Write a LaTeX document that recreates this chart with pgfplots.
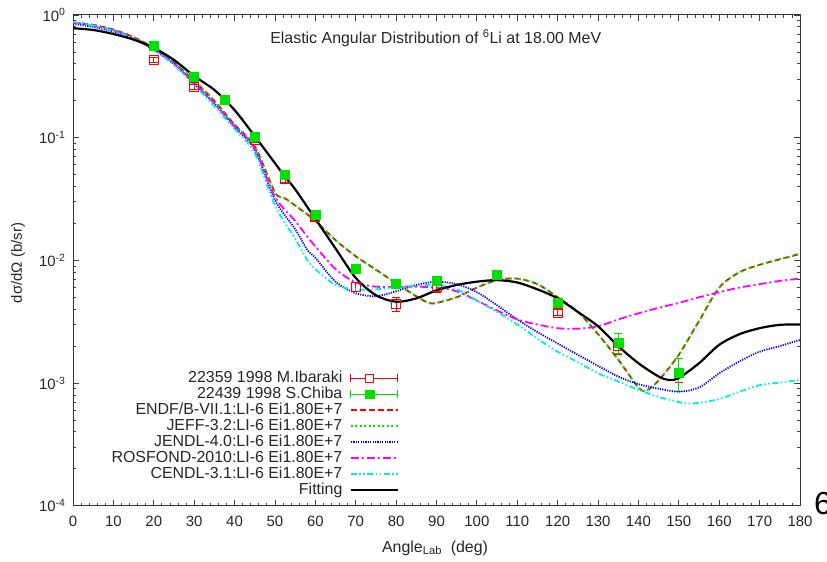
\documentclass[border=0pt]{standalone}
\usepackage{fontspec}
\setmainfont{Liberation Sans}
\usepackage{pgfplots}
\pgfplotsset{compat=1.18}
\usepackage{pgfplotstable}

\definecolor{cred}{RGB}{255,0,0}
\definecolor{cgreen}{RGB}{0,225,0}
\definecolor{cblue}{RGB}{0,0,255}
\definecolor{cmag}{RGB}{255,0,255}
\definecolor{ccyan}{RGB}{0,235,235}

\pgfplotstableread{
x y ep em
20 0.430 0.020 0.020
30 0.257 0.012 0.012
45 0.096 0.005 0.005
52.5 0.046 0.0025 0.0025
60 0.0224 0.0012 0.0012
70 0.0061 0.0005 0.0005
80 0.0044 0.0006 0.0006
90 0.0061 0.0006 0.0006
120 0.00375 0.0002 0.0002
135 0.0020 0.00025 0.0003
150 0.00121 0.00036 0.00020
}\ibaraki

\pgfplotstableread{
x y ep em
20 0.559 0.015 0.015
30 0.311 0.009 0.009
37.5 0.203 0.006 0.006
45 0.102 0.003 0.003
52.5 0.050 0.0015 0.0015
60 0.0234 0.0007 0.0007
70 0.0085 0.0003 0.0003
80 0.0064 0.0003 0.0003
90 0.0068 0.0003 0.0003
105 0.0076 0.0003 0.0003
120 0.0045 0.0002 0.0002
135 0.00214 0.0004 0.0004
150 0.00121 0.00036 0.00036
}\chiba

\pgfplotstableread{
x y
0 0.87
5 0.83
10 0.76
15 0.66
20 0.54
25 0.41
30 0.29
35 0.20
40 0.128
45 0.085
50 0.036
52.5 0.032
55 0.028
60 0.0210
65 0.0146
70 0.0108
75 0.0084
80 0.0065
85 0.0051
88 0.0045
90 0.0045
95 0.0050
100 0.0060
105 0.0069
110 0.0071
115 0.0064
120 0.0050
125 0.0038
130 0.0025
135 0.00155
140 0.00092
142 0.00087
145 0.00105
150 0.0017
155 0.0032
160 0.0060
165 0.0080
170 0.0092
175 0.0102
180 0.0113
}\endf

\pgfplotstableread{
x y
0 0.85
5 0.80
10 0.73
15 0.64
20 0.52
25 0.40
30 0.275
35 0.19
40 0.122
45 0.080
50 0.031
55 0.018
58 0.0122
60 0.0105
65 0.0067
70 0.0054
75 0.0051
80 0.0056
85 0.0063
90 0.0067
95 0.0064
100 0.0055
105 0.0043
110 0.0033
115 0.0026
120 0.0021
125 0.0017
130 0.00138
135 0.00113
140 0.00098
145 0.00090
150 0.00085
155 0.00092
160 0.00120
165 0.00150
170 0.00180
175 0.00200
180 0.00225
}\jendl

\pgfplotstableread{
x y
0 0.87
5 0.82
10 0.75
15 0.65
20 0.53
25 0.40
30 0.28
35 0.19
40 0.125
45 0.082
50 0.033
55 0.021
58 0.0156
60 0.0130
65 0.0085
70 0.0066
75 0.0061
80 0.0061
85 0.0061
90 0.0060
95 0.0056
100 0.0047
105 0.0039
110 0.0033
115 0.0030
120 0.0028
125 0.00277
130 0.0029
135 0.0033
140 0.0037
145 0.0041
150 0.0045
155 0.0050
160 0.0055
165 0.0060
170 0.0064
175 0.0068
180 0.0071
}\rosfond

\pgfplotstableread{
x y
0 0.88
5 0.82
10 0.74
15 0.64
20 0.52
25 0.39
30 0.27
35 0.18
40 0.118
45 0.075
50 0.028
55 0.015
58 0.0101
60 0.0085
65 0.0063
70 0.0058
75 0.0058
80 0.0060
85 0.0062
90 0.0063
95 0.0058
100 0.0047
105 0.0038
110 0.0030
115 0.0023
120 0.0018
125 0.00148
130 0.00120
135 0.00103
140 0.00088
145 0.00077
150 0.00070
152 0.00068
155 0.00069
160 0.00074
165 0.00085
170 0.00096
175 0.00101
180 0.00106
}\cendl

\pgfplotstableread{
x y
0 0.78
5 0.755
10 0.70
15 0.63
20 0.54
25 0.43
30 0.318
35 0.245
40 0.168
45 0.103
50 0.062
52.5 0.048
55 0.038
60 0.0218
65 0.0125
70 0.0072
75 0.0052
80 0.0046
85 0.0049
90 0.0057
95 0.0063
100 0.0067
105 0.0069
110 0.0066
115 0.0058
120 0.0049
125 0.0038
130 0.0029
135 0.0020
140 0.00145
145 0.00113
147.5 0.00106
150 0.00110
155 0.00145
160 0.00205
165 0.0025
170 0.0028
175 0.00298
180 0.0030
}\fitting

\begin{document}
\begin{tikzpicture}
\path[use as bounding box] (0bp,0bp) rectangle (827bp,562bp);
\begin{axis}[
  at={(73bp,56.3bp)}, anchor=south west,
  scale only axis, width=727bp, height=490.7bp,
  ymode=log, xmin=0, xmax=180, ymin=1e-4, ymax=1,
  xtick={0,10,...,180}, minor x tick num=4,
  ytick={1e-4,1e-3,1e-2,1e-1,1},
  yticklabels={10\textsuperscript{-4},10\textsuperscript{-3},10\textsuperscript{-2},10\textsuperscript{-1},10\textsuperscript{0}},
  minor ytick={2e-4,3e-4,4e-4,5e-4,6e-4,7e-4,8e-4,9e-4,2e-3,3e-3,4e-3,5e-3,6e-3,7e-3,8e-3,9e-3,2e-2,3e-2,4e-2,5e-2,6e-2,7e-2,8e-2,9e-2,0.2,0.3,0.4,0.5,0.6,0.7,0.8,0.9},
  /pgf/number format/assume math mode=true,
  tick align=inside, major tick length=6bp, minor tick length=3bp,
  tick style={black!75, line width=0.8bp},
  axis line style={black!80, line width=1bp},
  tick label style={font=\fontsize{15}{17}\selectfont, text=black!85},
  xticklabel style={yshift=-7bp},
  yticklabel style={xshift=-4bp},
  xlabel={Angle\textsubscript{Lab}\ \ (deg)},
  xlabel style={at={(axis description cs:0.498,-0.086)}, anchor=center, font=\fontsize{16}{18}\selectfont, text=black!85},
  ylabel={dσ/dΩ (b/sr)},
  ylabel style={at={(axis description cs:-0.0757,0.4946)}, anchor=center, font=\fontsize{15}{17}\selectfont, text=black!85},
  legend plot pos=right,
  legend cell align=right,
  legend style={at={(axis description cs:0.4488,0.0157)}, anchor=south east, draw=none, fill=none,
    font=\fontsize{16}{18}\selectfont, text=black!85, row sep=0.45bp, column sep=6bp, inner sep=0pt,
    nodes={inner xsep=1.5bp, inner ysep=0pt, text height=12bp, text depth=3.5bp}},
  legend image code/.code={\draw[#1] (0bp,0bp) -- (47bp,0bp);},
]
\addplot[cred, line width=1bp, mark=square, mark size=4.5bp, only marks,
  mark options={solid, fill=white, line width=1bp},
  legend image code/.code={\draw[cred, line width=1bp] (0bp,-4bp)--(0bp,4bp) (0bp,0bp)--(47bp,0bp) (47bp,-4bp)--(47bp,4bp);
     \node[draw=cred, fill=white, line width=1bp, minimum size=8.5bp, inner sep=0pt, text height=0pt, text depth=0pt] at (23.5bp,0bp) {};},
  error bars/.cd, y dir=both, y explicit,
  error bar style={cred, line width=1bp, solid},
  error mark options={rotate=90, cred, mark size=4bp, line width=1bp},
  ] table[x=x, y=y, y error plus=ep, y error minus=em] {\ibaraki};
\addlegendentry{22359 1998 M.Ibaraki}
\addplot[cgreen, line width=1bp, mark=square*, mark size=4.5bp, only marks,
  mark options={solid, fill=cgreen, line width=0.5bp},
  legend image code/.code={\draw[cgreen, line width=1bp] (0bp,-4bp)--(0bp,4bp) (0bp,0bp)--(47bp,0bp) (47bp,-4bp)--(47bp,4bp);
     \node[draw=cgreen, fill=cgreen, line width=0.5bp, minimum size=8.5bp, inner sep=0pt, text height=0pt, text depth=0pt] at (23.5bp,0bp) {};},
  error bars/.cd, y dir=both, y explicit,
  error bar style={cgreen, line width=1bp, solid},
  error mark options={rotate=90, cgreen, mark size=4bp, line width=1bp},
  ] table[x=x, y=y, y error plus=ep, y error minus=em] {\chiba};
\addlegendentry{22439 1998 S.Chiba}
\addplot[cred, line width=1.8bp, smooth, dash pattern=on 6bp off 3bp] table {\endf};
\addlegendentry{ENDF/B-VII.1:LI-6 Ei1.80E+7}
\addplot[cgreen, line width=1.8bp, smooth, dash pattern=on 2bp off 2.5bp] table {\endf};
\addlegendentry{JEFF-3.2:LI-6 Ei1.80E+7}
\addplot[cblue, line width=1.8bp, smooth, dash pattern=on 1.2bp off 1.2bp] table {\jendl};
\addlegendentry{JENDL-4.0:LI-6 Ei1.80E+7}
\addplot[cmag, line width=1.8bp, smooth, dash pattern=on 8bp off 3bp on 2bp off 3bp] table {\rosfond};
\addlegendentry{ROSFOND-2010:LI-6 Ei1.80E+7}
\addplot[ccyan, line width=1.8bp, smooth, dash pattern=on 6bp off 2.5bp on 1.5bp off 2.5bp on 1.5bp off 2.5bp] table {\cendl};
\addlegendentry{CENDL-3.1:LI-6 Ei1.80E+7}
\addplot[black, line width=2.2bp, smooth] table {\fitting};
\addlegendentry{Fitting}
\node[font=\fontsize{16}{18}\selectfont, text=black!85] at (axis description cs:0.499,0.953) {Elastic Angular Distribution of \textsuperscript{6}Li at 18.00 MeV};
\end{axis}
\node[anchor=west, font=\fontsize{32}{34}\selectfont, inner sep=0pt] at (814bp,58.6bp) {6};
\end{tikzpicture}
\end{document}
